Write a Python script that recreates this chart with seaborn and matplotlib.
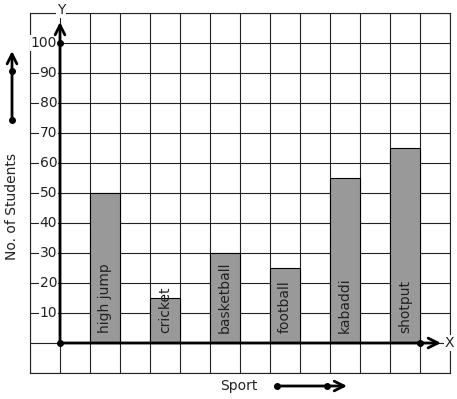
import numpy as np
import pandas as pd
import matplotlib
matplotlib.use('Agg')
import matplotlib.pyplot as plt
import seaborn as sns

# data
sports = ['high jump', 'cricket', 'basketball', 'football', 'kabaddi', 'shotput']
students = [50, 15, 30, 25, 55, 65]
y_ticks = [10, 20, 30, 40, 50, 60, 70, 80, 90, 100]

df = pd.DataFrame({'Sport': sports, 'Students': students})

sns.set_style('white')
plt.rcParams['font.family'] = ['DejaVu Sans']

W, H = 457, 399
fig = plt.figure(figsize=(W / 100, H / 100), dpi=100)
ax = fig.add_axes([30 / W, 26 / H, 420 / W, 360 / H])

# one grid square is half a category step
sns.barplot(data=df, x='Sport', y='Students', width=0.5, color='#999999',
            saturation=1, edgecolor='black', linewidth=0.8, ax=ax, zorder=2)

x0 = -0.75  # where the y axis sits
ax.set_xlim(-1.25, 5.75)
ax.set_ylim(-10, 110)
ax.set_xticks(np.arange(-1.25, 5.76, 0.5))
ax.set_yticks(np.arange(-10, 111, 10))
ax.tick_params(length=0, labelbottom=False, labelleft=False)
ax.grid(True, color='#222222', linewidth=0.8)
ax.set_axisbelow(True)
for s in ax.spines.values():
    s.set_color('#222222')
    s.set_linewidth(0.8)
ax.set_xlabel('')
ax.set_ylabel('')

# axes with arrow heads
arrow = dict(arrowstyle='->,head_length=0.7,head_width=0.35', lw=2, color='black',
             shrinkA=0, shrinkB=0)
ax.annotate('', xy=(x0, 107), xytext=(x0, 0), arrowprops=arrow, zorder=5)
ax.annotate('', xy=(5.6, 0), xytext=(x0, 0), arrowprops=arrow, zorder=5)
ax.plot([x0, x0, 5.25], [0, 100, 0], 'o', color='black', ms=4, zorder=6)

box = dict(facecolor='white', edgecolor='none', pad=0.6)
for v in y_ticks:
    ax.annotate(str(v), xy=(x0, v), xytext=(-2, 0), textcoords='offset points',
                ha='right', va='center', fontsize=10, color='#222222', bbox=box, zorder=4)

for i, name in enumerate(sports):
    ax.text(i, 3.3, name, rotation=90, ha='center', va='bottom', fontsize=10,
            color='#222222', zorder=4)

ax.text(5.66, 0, 'X', ha='left', va='center', fontsize=10, color='#222222', bbox=box,
        zorder=4, clip_on=False)
fig.text(61 / W, 389 / H, 'Y', ha='center', va='center', fontsize=10, color='#222222',
         bbox=box)

# outside labels and their arrows
fig.text(12 / W, 192 / H, 'No. of Students', rotation=90, ha='center', va='center',
         fontsize=10, color='#222222')
fig.text(239 / W, 13 / H, 'Sport', ha='center', va='center', fontsize=10, color='#222222')

ax.annotate('', xy=(12, 348), xytext=(12, 279), xycoords='figure pixels',
            arrowprops=arrow, annotation_clip=False)
ax.annotate('', xy=(347, 13), xytext=(277, 13), xycoords='figure pixels',
            arrowprops=arrow, annotation_clip=False)
ax.plot([12 / W, 12 / W], [279 / H, 328 / H], 'o', color='black', ms=4,
        transform=fig.transFigure, clip_on=False)
ax.plot([277 / W, 327 / W], [13 / H, 13 / H], 'o', color='black', ms=4,
        transform=fig.transFigure, clip_on=False)

fig.savefig('out.png', dpi=100)
